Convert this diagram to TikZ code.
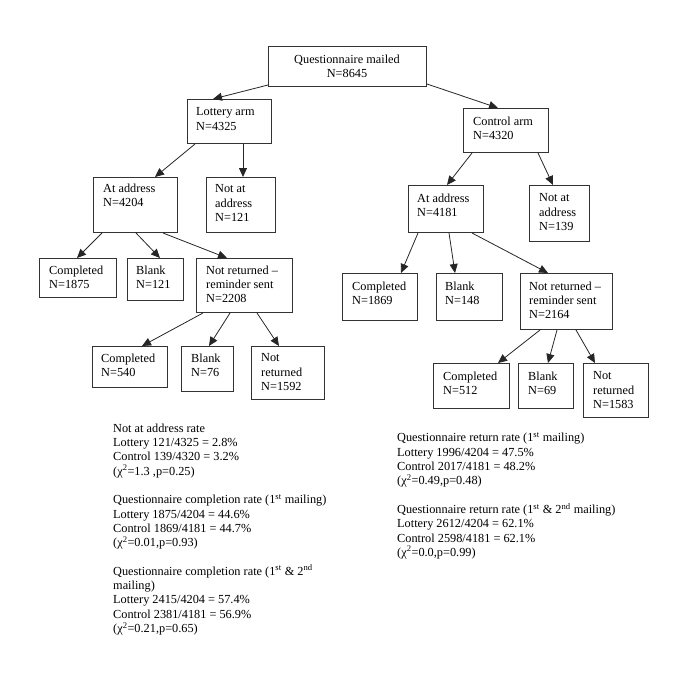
\documentclass[tikz,border=0pt]{standalone}
\usepackage{fontspec}
\setmainfont{Liberation Serif}
\usetikzlibrary{arrows.meta,positioning}
\newcommand\boxfont{\fontsize{12.3}{14.3}\selectfont}
\tikzset{
flowbox/.style={
  draw=black!80,
  line width=1pt,
  anchor=north west,
  inner sep=0pt
  },
boxtext/.style={
  anchor=north west,
  align=left,
  inner sep=0pt,
  font=\boxfont
  },
flowarr/.style={
  draw=black!85,
  line width=0.8pt,
  -{Triangle[length=9pt,width=8pt]}
  }
}

\begin{document}
\begin{tikzpicture}[x=1pt,y=-1pt]
\useasboundingbox (0,0) rectangle (685,678);

\node[flowbox, minimum width=158, minimum height=40] (root) at (268,46) {};
\node[boxtext, anchor=north, align=center] (root-t) at (347,54.5) {Questionnaire mailed\\N=8645};

\node[flowbox, minimum width=84, minimum height=44] (lot) at (187,99) {};
\node[boxtext] (lot-t) at (196,107.5) {Lottery arm\\N=4325};
\node[flowbox, minimum width=85, minimum height=44] (con) at (463,108) {};
\node[boxtext] (con-t) at (473,116.5) {Control arm\\N=4320};

\node[flowbox, minimum width=84, minimum height=55] (atl) at (93,177) {};
\node[boxtext] (atl-t) at (103,183.5) {At address\\N=4204};
\node[flowbox, minimum width=69, minimum height=55] (nal) at (206,177) {};
\node[boxtext] (nal-t) at (215,184.5) {Not at\\address\\N=121};
\node[flowbox, minimum width=75, minimum height=47] (atr) at (408,185) {};
\node[boxtext] (atr-t) at (417,193.5) {At address\\N=4181};
\node[flowbox, minimum width=60, minimum height=56] (nar) at (529,185) {};
\node[boxtext] (nar-t) at (539,193.5) {Not at\\address\\N=139};

\node[flowbox, minimum width=77, minimum height=39] (cl1) at (39,258) {};
\node[boxtext] (cl1-t) at (49,265.5) {Completed\\N=1875};
\node[flowbox, minimum width=56, minimum height=42] (bl1) at (127,258) {};
\node[boxtext] (bl1-t) at (136,265.5) {Blank\\N=121};
\node[flowbox, minimum width=96, minimum height=54] (nrl) at (196,258) {};
\node[boxtext] (nrl-t) at (206,265.5) {Not returned --\\reminder sent\\N=2208};

\node[flowbox, minimum width=75, minimum height=47] (cr1) at (342,273) {};
\node[boxtext] (cr1-t) at (352,281.5) {Completed\\N=1869};
\node[flowbox, minimum width=66, minimum height=47] (br1) at (436,273) {};
\node[boxtext] (br1-t) at (445,281.5) {Blank\\N=148};
\node[flowbox, minimum width=92, minimum height=56] (nrr) at (520,273) {};
\node[boxtext] (nrr-t) at (529,281.5) {Not returned --\\reminder sent\\N=2164};

\node[flowbox, minimum width=75, minimum height=41] (cl2) at (92,346) {};
\node[boxtext] (cl2-t) at (101,353.5) {Completed\\N=540};
\node[flowbox, minimum width=52, minimum height=45] (bl2) at (181,346) {};
\node[boxtext] (bl2-t) at (191,353.5) {Blank\\N=76};
\node[flowbox, minimum width=73, minimum height=53] (nrl2) at (251,346) {};
\node[boxtext] (nrl2-t) at (261,353.5) {Not\\returned\\N=1592};

\node[flowbox, minimum width=76, minimum height=45] (cr2) at (433,363) {};
\node[boxtext] (cr2-t) at (443,371.5) {Completed\\N=512};
\node[flowbox, minimum width=55, minimum height=45] (br2) at (518,363) {};
\node[boxtext] (br2-t) at (528,371.5) {Blank\\N=69};
\node[flowbox, minimum width=65, minimum height=54] (nrr2) at (583,363) {};
\node[boxtext] (nrr2-t) at (593,371.5) {Not\\returned\\N=1583};

\draw[flowarr] ([shift={(0,-2)}]root.south west) -- ([xshift=26]lot.north west);
\draw[flowarr] ([shift={(0,-3)}]root.south east) -- ([xshift=35]con.north west);
\draw[flowarr] ([xshift=8]lot.south west) -- ([xshift=62]atl.north west);
\draw[flowarr] ([xshift=56]lot.south west) -- ([xshift=37]nal.north west);
\draw[flowarr] ([xshift=9]con.south west) -- ([xshift=39]atr.north west);
\draw[flowarr] ([xshift=75]con.south west) -- ([xshift=24]nar.north west);
\draw[flowarr] ([xshift=9]atl.south west) -- ([xshift=38]cl1.north west);
\draw[flowarr] ([xshift=43]atl.south west) -- ([xshift=33]bl1.north west);
\draw[flowarr] ([xshift=70]atl.south west) -- ([xshift=31]nrl.north west);
\draw[flowarr] ([xshift=10]atr.south west) -- ([xshift=59]cr1.north west);
\draw[flowarr] ([xshift=41]atr.south west) -- ([xshift=19]br1.north west);
\draw[flowarr] ([xshift=64]atr.south west) -- ([xshift=28]nrr.north west);
\draw[flowarr] ([xshift=7]nrl.south west) -- ([xshift=50]cl2.north west);
\draw[flowarr] ([xshift=34]nrl.south west) -- ([xshift=28]bl2.north west);
\draw[flowarr] ([xshift=61]nrl.south west) -- ([xshift=28]nrl2.north west);
\draw[flowarr] ([xshift=20]nrr.south west) -- ([xshift=65]cr2.north west);
\draw[flowarr] ([xshift=37]nrr.south west) -- ([xshift=30]br2.north west);
\draw[flowarr] ([xshift=56]nrr.south west) -- ([xshift=12]nrr2.north west);

\node[boxtext] (stats-l) at (113,423.5) {Not at address rate\\
Lottery 121/4325 = 2.8\%\\
Control 139/4320 = 3.2\%\\
(χ\textsuperscript{2}=1.3 ,p=0.25)\\[14.3pt]
Questionnaire completion rate (1\textsuperscript{st} mailing)\\
Lottery 1875/4204 = 44.6\%\\
Control 1869/4181 = 44.7\%\\
(χ\textsuperscript{2}=0.01,p=0.93)\\[14.3pt]
Questionnaire completion rate (1\textsuperscript{st} \& 2\textsuperscript{nd}\\
mailing)\\
Lottery 2415/4204 = 57.4\%\\
Control 2381/4181 = 56.9\%\\
(χ\textsuperscript{2}=0.21,p=0.65)};

\node[boxtext] (stats-r) at (397,432.5) {Questionnaire return rate (1\textsuperscript{st} mailing)\\
Lottery 1996/4204 = 47.5\%\\
Control 2017/4181 = 48.2\%\\
(χ\textsuperscript{2}=0.49,p=0.48)\\[14.3pt]
Questionnaire return rate (1\textsuperscript{st} \& 2\textsuperscript{nd} mailing)\\
Lottery 2612/4204 = 62.1\%\\
Control 2598/4181 = 62.1\%\\
(χ\textsuperscript{2}=0.0,p=0.99)};
\end{tikzpicture}
\end{document}
